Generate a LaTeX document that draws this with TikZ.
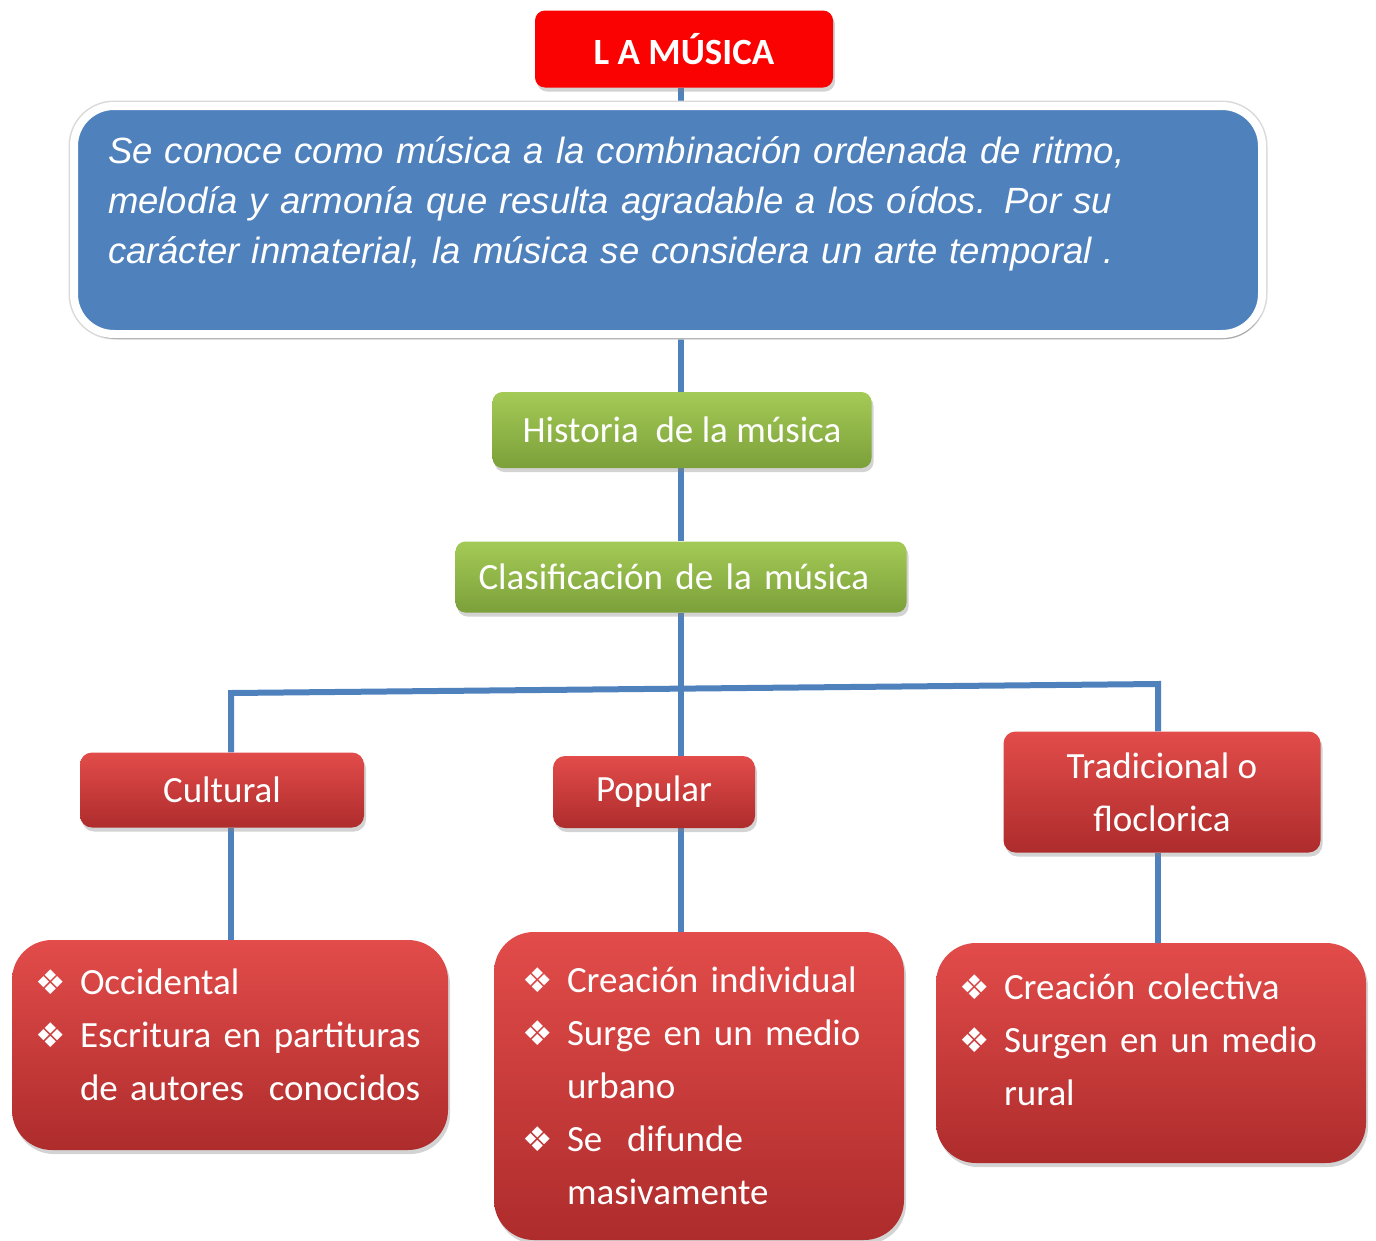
\documentclass[tikz,border=0pt]{standalone}
\usepackage{fontspec}
\setmainfont{Carlito}
\newfontfamily\descfont{Liberation Sans}
\newfontfamily\bulfont{DejaVu Sans}
\usetikzlibrary{shadows,backgrounds,positioning}
\definecolor{linkblue}{RGB}{79,129,189}
\definecolor{titlered}{RGB}{250,2,2}
\definecolor{redtop}{RGB}{226,76,74}
\definecolor{redbot}{RGB}{174,44,44}
\definecolor{greentop}{RGB}{164,202,86}
\definecolor{greenbot}{RGB}{124,160,58}
\newcommand{\bul}{\makebox[45pt][l]{\bulfont\fontsize{34}{34}\selectfont ❖}}
\newcommand{\hang}{\hspace*{45pt}}

\begin{document}
\begin{tikzpicture}[
		x=1pt, y=-1pt,
		link/.style={draw=linkblue, line width=6pt},
		boxshadow/.style={drop shadow={opacity=0.35, shadow xshift=2pt, shadow yshift=-4pt}},
		redbox/.style={rounded corners=12pt, top color=redtop, bottom color=redbot,
			text=white, inner sep=0pt, boxshadow, font=\fontsize{37}{53}\selectfont},
		greenbox/.style={rounded corners=10pt, top color=greentop, bottom color=greenbot,
			text=white, inner sep=0pt, boxshadow, font=\fontsize{37}{40}\selectfont},
		listbox/.style={redbox, rounded corners=40pt, align=left, inner ysep=0pt},
	]
	\useasboundingbox (0,0) rectangle (1376,1240);

	% title and definition
	\node[rounded corners=10pt, fill=titlered, text=white, boxshadow,
		minimum width=298pt, minimum height=77pt, inner sep=0pt,
		font=\bfseries\fontsize{37}{40}\selectfont] (title) at (684,49) {L A MÚSICA};
	\node[rounded corners=40pt, fill=linkblue, draw=white, line width=8pt,
		preaction={draw=black!15, line width=11pt},
		drop shadow={opacity=0.5, shadow xshift=2pt, shadow yshift=-5pt},
		minimum width=1188pt, minimum height=228pt, inner xsep=32pt, inner ysep=0pt,
		text width=1120pt, align=left, text=white,
		font=\descfont\itshape\fontsize{36.5}{50}\selectfont] (desc) at (668,220)
		{Se conoce como música a la combinación ordenada de ritmo,\\
		melodía y armonía que resulta agradable a los oídos. Por su\\
		carácter inmaterial, la música se considera un arte temporal .\par\vspace{32pt}};

	% green steps
	\node[greenbox, minimum width=379pt, minimum height=76pt] (hist) at (682,430) {Historia~ de la música};
	\node[greenbox, minimum width=451pt, minimum height=71pt, inner xsep=23pt,
		text width=405pt, align=left] (clas) at (681,577) {Clasificación de la música};

	% kinds
	\node[redbox, minimum width=284pt, minimum height=75pt] (cult) at (222,790) {Cultural};
	\node[redbox, minimum width=202pt, minimum height=72pt] (pop) at (654,792) {Popular};
	\node[redbox, minimum width=317pt, minimum height=121pt, align=center] (trad) at (1162,792)
		{Tradicional o\\floclorica};

	% features
	\node[listbox, minimum width=436pt, minimum height=210pt, inner xsep=23pt, text width=390pt] (occ) at (230,1045)
		{\bul Occidental\\ \bul Escritura en partituras\\ \hang de autores~ conocidos\par\vspace{20pt}};
	\node[listbox, minimum width=410pt, minimum height=308pt, inner xsep=28pt, text width=354pt] (urb) at (699,1086)
		{\bul Creación individual\\ \bul Surge en un medio\\ \hang urbano\\ \bul Se~ difunde\\ \hang masivamente};
	\node[listbox, minimum width=430pt, minimum height=220pt, inner xsep=23pt, text width=384pt] (rur) at (1151,1053)
		{\bul Creación colectiva\\ \bul Surgen en un medio\\ \hang rural\par\vspace{26pt}};

	% connectors
	\coordinate (spine) at (681,0);
	\coordinate (lj) at (231,693);
	\coordinate (rj) at (1158,684);
	\begin{scope}[on background layer]
		\draw[link] (title.south -| spine) -- (desc.north -| spine);
		\draw[link] (desc.south -| spine) -- (hist.north -| spine);
		\draw[link] (hist.south -| spine) -- (clas.north -| spine);
		\draw[link] (clas.south -| spine) -- (pop.north -| spine);
		\draw[link] (cult.north -| lj) -- (lj) -- (rj) -- (trad.north -| rj);
		\draw[link] (cult.south -| lj) -- (occ.north -| lj);
		\draw[link] (pop.south -| spine) -- (urb.north -| spine);
		\draw[link] (trad.south -| rj) -- (rur.north -| rj);
	\end{scope}
\end{tikzpicture}
\end{document}
